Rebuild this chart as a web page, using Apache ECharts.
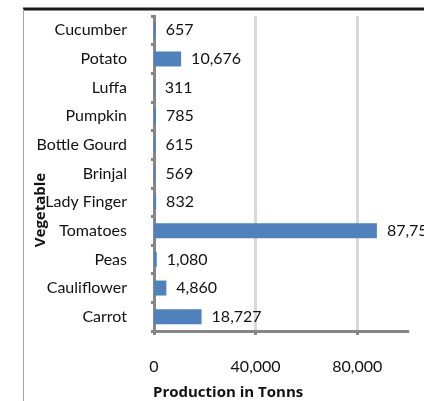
<!DOCTYPE html>
<html>
<head>
<meta charset="utf-8">
<script src="https://cdn.jsdelivr.net/npm/echarts@6/dist/echarts.min.js"></script>
<style>
  html, body { margin: 0; padding: 0; background: #fff; }
  #container { width: 424px; height: 401px; }
</style>
</head>
<body>
<div id="container"></div>
<script>
// vegetables, bottom to top as drawn
var vegetables = ['Carrot', 'Cauliflower', 'Peas', 'Tomatoes', 'Lady Finger', 'Brinjal',
    'Bottle Gourd', 'Pumpkin', 'Luffa', 'Potato', 'Cucumber']
var production = [18727, 4860, 1080, 87750, 832, 569, 615, 785, 311, 10676, 657]
var xTicks = [0, 40000, 80000]

var fmt = function (v) {
    return String(v).replace(/\B(?=(\d{3})+(?!\d))/g, ',')
}

var chart = echarts.init(document.getElementById('container'))

var font = 'Lato, "Open Sans", sans-serif'
var boldFont = '"Open Sans", Lato, sans-serif'

var option = {
    animation: false,
    grid: { left: 154, right: 16, top: 16, bottom: 70 },
    xAxis: {
        type: 'value',
        min: 0,
        max: 100000,
        interval: 40000,
        axisLine: { show: true, lineStyle: { color: '#868686', width: 3 } },
        axisTick: { show: true, length: 4, lineStyle: { color: '#868686', width: 3 } },
        axisLabel: {
            margin: 28,
            fontFamily: font,
            fontSize: 16,
            color: '#111',
            showMaxLabel: false,
            formatter: function (v) {
                return xTicks.indexOf(v) >= 0 ? fmt(v) : ''
            }
        },
        splitLine: {
            show: true,
            lineStyle: { color: ['#d9d9d9', '#d9d9d9', '#d9d9d9', 'rgba(0,0,0,0)'], width: 3 }
        }
    },
    yAxis: {
        type: 'category',
        data: vegetables,
        axisLine: { show: true, lineStyle: { color: '#868686', width: 3 } },
        axisTick: { show: true, length: 3, lineStyle: { color: '#868686', width: 3 } },
        axisLabel: { margin: 27, fontFamily: font, fontSize: 16, color: '#111' }
    },
    series: [{
        type: 'bar',
        data: production,
        barWidth: 15,
        itemStyle: { color: '#4f81bd' },
        label: {
            show: true,
            position: 'right',
            distance: 10,
            fontFamily: font,
            fontSize: 16,
            color: '#111',
            formatter: function (p) { return fmt(p.value) }
        }
    }],
    graphic: [
        { type: 'line', shape: { x1: 23, y1: 9, x2: 424, y2: 9 }, style: { stroke: '#1a1a1a', lineWidth: 3 } },
        { type: 'line', shape: { x1: 23.5, y1: 9, x2: 23.5, y2: 401 }, style: { stroke: '#a6a6a6', lineWidth: 1 } },
        {
            type: 'text', x: 41, y: 210, rotation: Math.PI / 2,
            style: {
                text: 'Vegetable', fontFamily: boldFont, fontSize: 15, fontWeight: 'bold', fill: '#111',
                align: 'center', verticalAlign: 'middle'
            }
        },
        {
            type: 'text', left: 153, top: 385,
            style: { text: 'Production in Tonns', fontFamily: boldFont, fontSize: 15, fontWeight: 'bold', fill: '#111' }
        }
    ]
}

chart.setOption(option)
</script>
</body>
</html>
